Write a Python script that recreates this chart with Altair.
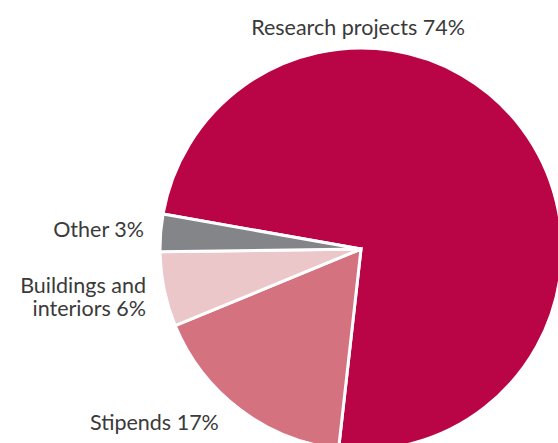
import altair as alt
import pandas as pd
import math

categories = ["Research projects", "Stipends", "Buildings and interiors", "Other"]
shares = [74, 17, 6, 3]
colors = ["#b90546", "#d4737f", "#ecc7c9", "#848589"]

df = pd.DataFrame({"category": categories, "share": shares, "order": list(range(len(categories)))})

start = math.radians(280)
CX, CY, R = 361, 249, 201

pie = alt.Chart(df).mark_arc(x=CX, y=CY, outerRadius=R, stroke="white", strokeWidth=3).encode(
    theta=alt.Theta("share:Q", stack=True, scale=alt.Scale(range=[start, start + 2 * math.pi])),
    color=alt.Color("category:N", scale=alt.Scale(domain=categories, range=colors), legend=None),
    order=alt.Order("order:Q"),
)

font = "Lato"
tcol = "#3a3a3a"
labels_df = pd.DataFrame({"category": categories, "share": shares})

def lab(text, x, y, align):
    return alt.Chart(labels_df.head(1)).mark_text(
        text=text, x=x, y=y, align=align, baseline="alphabetic",
        font=font, fontSize=21.5, fontWeight="normal", color=tcol, lineHeight=22.5,
    ).encode(opacity=alt.value(1))

layers = [
    pie,
    lab(f"{categories[0]} {shares[0]}%", 358, 35, "center"),
    lab(f"{categories[3]} {shares[3]}%", 144, 237, "right"),
    lab(["Buildings and", f"interiors {shares[2]}%"], 146, 293, "right"),
    lab(f"{categories[1]} {shares[1]}%", 90, 430, "left"),
]

chart = alt.layer(*layers).properties(
    width=558, height=443, autosize=alt.AutoSizeParams(type="none"), padding=0
).configure_view(stroke=None)

chart.save("out.html", embed_options={"renderer": "svg", "actions": False})
